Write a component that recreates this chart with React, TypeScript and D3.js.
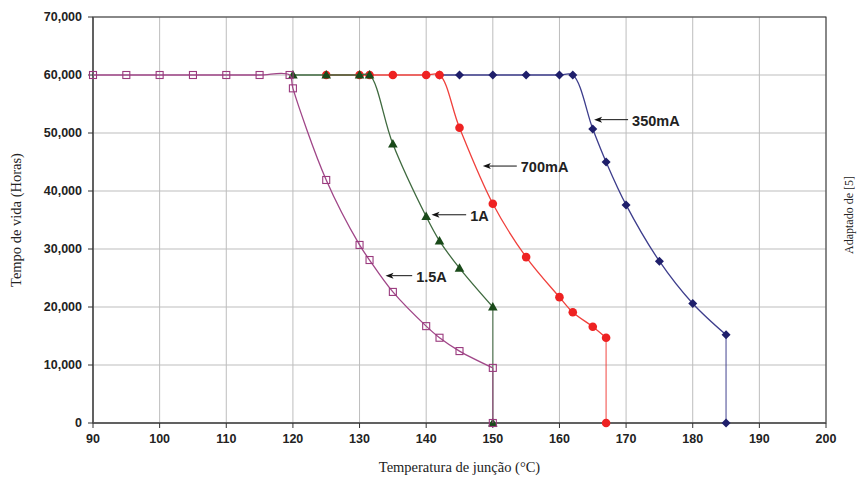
import React from "react";
import * as d3 from "d3";

const xTicks = [90, 100, 110, 120, 130, 140, 150, 160, 170, 180, 190, 200];
const yTicks = [0, 10000, 20000, 30000, 40000, 50000, 60000, 70000];

const temp15A = [90, 95, 100, 105, 110, 115, 119.5, 120, 125, 130, 131.5, 135, 140, 142, 145, 150, 150];
const life15A = [60000, 60000, 60000, 60000, 60000, 60000, 60000, 57700, 41900, 30700, 28100, 22600, 16700, 14700, 12400, 9500, 0];

const temp1A = [120, 125, 130, 131.5, 135, 140, 142, 145, 150, 150];
const life1A = [60000, 60000, 60000, 60000, 48100, 35600, 31400, 26700, 20000, 0];

const temp700 = [125, 130, 131.5, 135, 140, 142, 145, 150, 155, 160, 162, 165, 167, 167];
const life700 = [60000, 60000, 60000, 60000, 60000, 60000, 50900, 37800, 28600, 21700, 19100, 16600, 14700, 0];

const temp350 = [142, 145, 150, 155, 160, 162, 165, 167, 170, 175, 180, 185, 185];
const life350 = [60000, 60000, 60000, 60000, 60000, 60000, 50700, 45000, 37600, 27900, 20600, 15200, 0];

const labels = ["350mA", "700mA", "1A", "1.5A"];
const labelAt = [
  { tFrom: 170.3, tTo: 165.2, v: 52300 },
  { tFrom: 153.6, tTo: 148.5, v: 44300 },
  { tFrom: 146, tTo: 140.8, v: 35900 },
  { tFrom: 137.9, tTo: 133.9, v: 25400 },
];

const W = 860, H = 479;
const L = 93, R = 826, T = 17, B = 423;

export default function App() {
  const x = d3.scaleLinear().domain([90, 200]).range([L, R]);
  const y = d3.scaleLinear().domain([0, 70000]).range([B, T]);
  const fmt = d3.format(",");

  const series = [
    { t: temp350, v: life350, line: "#3d3d8c", mark: "#1f1f6b", shape: "diamond" },
    { t: temp700, v: life700, line: "#f0403c", mark: "#ee2222", shape: "circle" },
    { t: temp1A, v: life1A, line: "#3f6a3f", mark: "#1a4a1a", shape: "triangle" },
    { t: temp15A, v: life15A, line: "#a04688", mark: "#9a3a7e", shape: "square" },
  ];

  const smooth = d3.line<[number, number]>().x(d => x(d[0])).y(d => y(d[1])).curve(d3.curveCatmullRom.alpha(0.5));
  const straight = d3.line<[number, number]>().x(d => x(d[0])).y(d => y(d[1]));

  const sym = (shape: string, cx: number, cy: number, col: string, k: number) => {
    if (shape === "circle") return <circle key={k} cx={cx} cy={cy} r={4.3} fill={col} />;
    if (shape === "square") return <rect key={k} x={cx - 3.5} y={cy - 3.5} width={7} height={7} fill="white" fillOpacity={0.01} stroke={col} strokeWidth={1.1} />;
    if (shape === "triangle") return <path key={k} d={`M${cx},${cy - 5} L${cx + 4.8},${cy + 3.6} L${cx - 4.8},${cy + 3.6} Z`} fill={col} />;
    return <path key={k} d={`M${cx},${cy - 4.5} L${cx + 4.5},${cy} L${cx},${cy + 4.5} L${cx - 4.5},${cy} Z`} fill={col} />;
  };

  return (
    <svg width={W} height={H} style={{ position: "absolute", left: 0, top: 0, background: "white" }}>
      <rect x={0} y={0} width={W} height={H} fill="white" />
      {yTicks.map(v => (
        <line key={"gy" + v} x1={L} x2={R} y1={y(v)} y2={y(v)} stroke="#bdbdbd" strokeWidth={1} />
      ))}
      {xTicks.map(v => (
        <line key={"gx" + v} x1={x(v)} x2={x(v)} y1={T} y2={B} stroke="#bdbdbd" strokeWidth={1} />
      ))}
      <rect x={L} y={T} width={R - L} height={B - T} fill="none" stroke="#333" strokeWidth={1} />
      <line x1={L} x2={L} y1={T} y2={B} stroke="#555" strokeWidth={1.5} />
      <line x1={L} x2={R} y1={B} y2={B} stroke="#555" strokeWidth={1.5} />
      {yTicks.map(v => (
        <g key={"ty" + v}>
          <line x1={L - 5} x2={L} y1={y(v)} y2={y(v)} stroke="#333" />
          <text x={L - 11} y={y(v)} dy="0.35em" textAnchor="end" fontFamily="Liberation Sans, Arial, sans-serif" fontWeight="bold" fontSize={12.5} fill="#222">{fmt(v)}</text>
        </g>
      ))}
      {xTicks.map(v => (
        <g key={"tx" + v}>
          <line x1={x(v)} x2={x(v)} y1={B} y2={B + 5} stroke="#333" />
          <text x={x(v)} y={B + 20} textAnchor="middle" fontFamily="Liberation Sans, Arial, sans-serif" fontWeight="bold" fontSize={12.5} fill="#222">{v}</text>
        </g>
      ))}
      {series.map((s, i) => {
        const pts: [number, number][] = s.t.map((t, j) => [t, s.v[j]]);
        const n = pts.length;
        return (
          <g key={"s" + i}>
            <path d={smooth(pts.slice(0, n - 1)) || ""} fill="none" stroke={s.line} strokeWidth={1.3} />
            <path d={straight(pts.slice(n - 2)) || ""} fill="none" stroke={s.line} strokeWidth={1.3} opacity={0.75} />
            {pts.map((p, j) => sym(s.shape, x(p[0]), y(p[1]), s.mark, j))}
          </g>
        );
      })}
      {labels.map((lab, i) => {
        const a = labelAt[i];
        const x1 = x(a.tFrom), x2 = x(a.tTo), yy = y(a.v);
        return (
          <g key={"lab" + i}>
            <line x1={x1} x2={x2 + 6} y1={yy} y2={yy} stroke="#111" strokeWidth={1} />
            <path d={`M${x2},${yy} L${x2 + 8},${yy - 3} L${x2 + 6},${yy} L${x2 + 8},${yy + 3} Z`} fill="#111" />
            <text x={x1 + 4} y={yy + 1} dy="0.35em" fontFamily="Liberation Sans, Arial, sans-serif" fontWeight="bold" fontSize={14.5} fill="#222">{lab}</text>
          </g>
        );
      })}
      <text transform={`translate(21,${(T + B) / 2}) rotate(-90)`} textAnchor="middle" fontFamily="Liberation Serif, Times New Roman, serif" fontSize={14.5} fill="#222">Tempo de vida (Horas)</text>
      <text x={(L + R) / 2} y={472} textAnchor="middle" fontFamily="Liberation Serif, Times New Roman, serif" fontSize={14.5} fill="#222">Temperatura de junção (°C)</text>
      <text transform={`translate(853,215) rotate(-90)`} textAnchor="middle" fontFamily="Liberation Serif, Times New Roman, serif" fontSize={12} fill="#222">Adaptado de [5]</text>
    </svg>
  );
}
